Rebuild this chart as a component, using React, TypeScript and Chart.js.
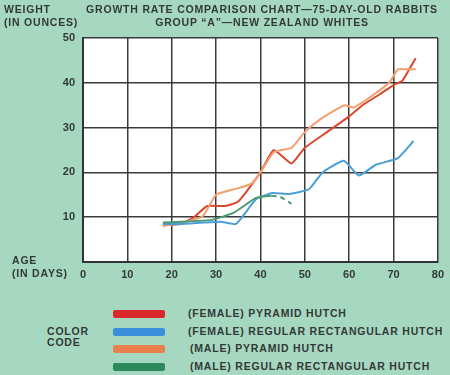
import React, { useEffect, useRef } from "react";
import { Chart, registerables } from "chart.js";

Chart.register(...registerables);

const titleLines = [
  "GROWTH RATE COMPARISON CHART\u201475-DAY-OLD RABBITS",
  "GROUP \u201CA\u201D\u2014NEW ZEALAND WHITES",
];
const yAxisLabel = ["WEIGHT", "(IN OUNCES)"];
const xAxisLabel = ["AGE", "(IN DAYS)"];

const femalePyramidDays = [18, 22, 25, 28, 32, 35, 40, 43, 47, 50, 55, 60, 63, 67, 70, 72, 75];
const femalePyramidWeights = [8.3, 8.5, 10, 12.5, 12.5, 13.5, 20, 25, 22, 25.5, 29, 32.5, 35, 37.5, 39.5, 40.5, 45.5];

const femaleRegularDays = [18, 22, 27, 31, 34.5, 39, 42.7, 46.5, 51, 54, 58.8, 62.2, 66, 71, 74.5];
const femaleRegularWeights = [8.5, 8.5, 8.8, 9, 8.5, 14, 15.4, 15.2, 16.3, 20, 22.6, 19.3, 21.7, 23.2, 27];

const malePyramidDays = [18, 22, 27, 30, 35, 38, 40, 43, 47, 50, 53, 57, 59, 61, 65, 69, 71, 73, 75];
const malePyramidWeights = [8, 8.7, 10.2, 15, 16.5, 17.5, 20, 24.5, 25.5, 29, 31.5, 34, 35, 34.5, 37, 40, 43, 43, 43];

const maleRegularDays = [18, 22, 29, 34, 39, 42.5, 44.5, 47];
const maleRegularWeights = [8.8, 9, 9.4, 11, 14.3, 14.8, 14.5, 13];
const maleRegularDashFrom = 5;

const legendLabels = [
  "(FEMALE) PYRAMID HUTCH",
  "(FEMALE) REGULAR RECTANGULAR HUTCH",
  "(MALE) PYRAMID HUTCH",
  "(MALE) REGULAR RECTANGULAR HUTCH",
];
const legendSwatch = ["#d8282c", "#3a8fdc", "#e8804c", "#2a8a5c"];
const lineColors = ["#d9472e", "#4a9fd8", "#f2a070", "#4a9a72"];

const BG = "#a6d8c1";
const TEXT = "#333a36";
const FONT = "'Liberation Sans', Arial, sans-serif";

function pts(xs: number[], ys: number[]) {
  return xs.map((x, i) => ({ x, y: ys[i] }));
}

export default function App() {
  const ref = useRef<HTMLCanvasElement | null>(null);
  useEffect(() => {
    if (!ref.current) return;
    const whiteBg = {
      id: "whiteBg",
      beforeDraw(chart: any) {
        const { ctx, chartArea } = chart;
        ctx.save();
        ctx.fillStyle = "#ffffff";
        ctx.fillRect(chartArea.left, chartArea.top, chartArea.right - chartArea.left, chartArea.bottom - chartArea.top);
        ctx.restore();
      },
    };
    const common = { pointRadius: 0, borderWidth: 2, tension: 0.15, fill: false };
    const chart = new Chart(ref.current, {
      type: "line",
      data: {
        datasets: [
          { ...common, label: legendLabels[3], data: pts(maleRegularDays, maleRegularWeights), borderColor: lineColors[3],
            segment: { borderDash: (c: any) => (c.p0DataIndex >= maleRegularDashFrom ? [5, 4] : undefined) } },
          { ...common, label: legendLabels[1], data: pts(femaleRegularDays, femaleRegularWeights), borderColor: lineColors[1] },
          { ...common, label: legendLabels[2], data: pts(malePyramidDays, malePyramidWeights), borderColor: lineColors[2] },
          { ...common, label: legendLabels[0], data: pts(femalePyramidDays, femalePyramidWeights), borderColor: lineColors[0] },
        ],
      },
      options: {
        responsive: false,
        animation: false,
        layout: { padding: { top: 38, right: 10, left: 0, bottom: 0 } },
        plugins: { legend: { display: false }, tooltip: { enabled: false } },
        scales: {
          x: {
            type: "linear",
            min: 0,
            max: 80,
            ticks: { stepSize: 10, color: TEXT, font: { family: FONT, size: 11, weight: "bold" }, padding: 6 },
            grid: { color: "#3a3a3a", lineWidth: 1.5, drawTicks: false },
            border: { display: true, color: "#333", width: 2 },
            afterFit: (s: any) => { s.height = 28; },
          },
          y: {
            min: 0,
            max: 50,
            ticks: {
              stepSize: 10, color: TEXT, font: { family: FONT, size: 11, weight: "bold" }, padding: 8,
              callback: (v: any) => (v === 0 ? "" : String(v)),
            },
            grid: { color: "#3a3a3a", lineWidth: 1.5, drawTicks: false },
            border: { display: true, color: "#333", width: 2 },
            afterFit: (s: any) => { s.width = 83; },
          },
        },
      },
      plugins: [whiteBg],
    } as any);
    return () => chart.destroy();
  }, []);

  const txt: React.CSSProperties = {
    position: "absolute", fontFamily: FONT, fontWeight: "bold", color: TEXT, fontSize: 10.5, lineHeight: "13px",
    whiteSpace: "nowrap", letterSpacing: "0.8px",
  };

  return (
    <div style={{ position: "fixed", left: 0, top: 0, width: 450, height: 375, background: BG, overflow: "hidden" }}>
      <canvas ref={ref} width={450} height={290} style={{ position: "absolute", left: 0, top: 0 }} />
      <div style={{ ...txt, left: 4, top: 3 }}>{yAxisLabel[0]}<br />{yAxisLabel[1]}</div>
      <div style={{ ...txt, left: 84, width: 356, top: 3, textAlign: "center" }}>{titleLines[0]}<br />{titleLines[1]}</div>
      <div style={{ ...txt, left: 12, top: 254 }}>{xAxisLabel[0]}<br />{xAxisLabel[1]}</div>
      <div style={{ ...txt, left: 47, top: 326, lineHeight: "11px" }}>COLOR<br />CODE</div>
      {legendLabels.map((l, i) => (
        <React.Fragment key={l}>
          <div style={{ position: "absolute", left: 113, top: 310 + i * 17.7, width: 52, height: 8, borderRadius: 2, background: legendSwatch[i] }} />
          <div style={{ ...txt, left: 188 + (i >= 2 ? 2 : 0), top: 307 + i * 17.7 }}>{l}</div>
        </React.Fragment>
      ))}
    </div>
  );
}
